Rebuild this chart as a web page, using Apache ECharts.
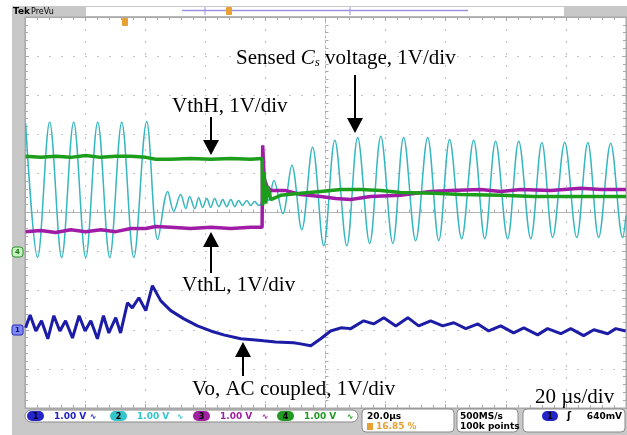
<!DOCTYPE html>
<html><head><meta charset="utf-8">
<script src="https://cdn.jsdelivr.net/npm/echarts@6/dist/echarts.min.js"></script>
<style>html,body{margin:0;padding:0;background:#fff}#c{width:627px;height:435px}</style>
</head><body><div id="c"></div>
<script>
// time in µs (20 µs/div), amplitude in V (1 V/div, measured from screen centre)
const cyanT = [-99.8,-95.8,-91.8,-87.8,-83.8,-79.8,-75.8,-71.8,-67.8,-63.8,-59.5,-55.8,-52.5,-50.5,-48.2,-46.5,-45.2,-43.5,-42.2,-40.9,-39.5,-38.2,-36.9,-35.5,-34.2,-32.9,-31.5,-30.2,-28.9,-27.6,-26.2,-24.9,-23.6,-22.2,-21.2,-20.6,-18.9,-17.2,-14.2,-11.2,-7.9,-4.3,-0.6,3.1,7.1,10.7,14.7,18.4,22.4,26.0,30.0,34.0,37.7,41.3,45.3,49.3,53.0,56.6,60.6,64.3,68.3,72.0,75.6,79.6,83.6,87.3,90.9,94.9,98.9,100];
const cyanV = [2.28,-1.15,2.31,-1.15,2.31,-1.15,2.31,-1.15,2.31,-1.15,2.33,-0.69,0.54,0.03,0.46,0.10,0.41,0.10,0.38,0.13,0.36,0.13,0.36,0.15,0.33,0.15,0.33,0.15,0.31,0.18,0.31,0.18,0.28,0.18,0.28,0.69,0.31,0.82,-0.03,1.21,-0.44,1.67,-0.85,1.85,-0.85,1.92,-0.79,1.95,-0.79,1.92,-0.72,1.92,-0.72,1.87,-0.67,1.85,-0.67,1.82,-0.67,1.82,-0.67,1.79,-0.64,1.79,-0.64,1.79,-0.64,1.77,-0.64,-0.08];

const vthHT = [-99.8,-94.8,-89.8,-84.8,-79.8,-74.8,-69.8,-64.8,-59.8,-56.5,-51.5,-44.9,-38.2,-31.5,-24.9,-21.1,-20.9,-20.4,-19.9,-19.2,-18.2,-14.9,-8.3,-1.6,5.1,11.7,18.4,25.0,36.0,45.0,58.3,69.3,81.6,91.6,100];
const vthHV = [1.44,1.41,1.44,1.41,1.46,1.41,1.44,1.44,1.41,1.36,1.36,1.38,1.36,1.38,1.36,1.38,0.18,1.03,0.23,0.67,0.33,0.44,0.49,0.54,0.59,0.59,0.56,0.51,0.49,0.46,0.44,0.41,0.41,0.41,0.41];

const vthLT = [-99.8,-94.8,-89.8,-84.8,-79.8,-74.8,-69.8,-64.8,-59.8,-56.5,-51.5,-44.9,-38.2,-31.5,-24.9,-21.1,-20.9,-20.4,-19.5,-18.2,-13.2,-8.3,-1.6,3.4,8.4,15.0,25.0,35.0,41.7,51.7,58.3,65.0,74.9,84.9,91.6,100];
const vthLV = [-0.49,-0.46,-0.51,-0.44,-0.49,-0.44,-0.49,-0.41,-0.41,-0.36,-0.38,-0.41,-0.38,-0.41,-0.38,-0.38,1.72,0.87,0.67,0.56,0.56,0.46,0.41,0.36,0.33,0.41,0.44,0.54,0.56,0.59,0.54,0.59,0.56,0.62,0.59,0.59];

const voT = [-99.8,-98.3,-96.4,-94.5,-92.4,-90.4,-88.4,-86.5,-84.2,-82.0,-80.0,-78.1,-75.9,-73.9,-72.1,-69.8,-68.2,-65.9,-64.3,-62.1,-59.8,-57.6,-54.8,-51.5,-47.1,-42.6,-38.2,-33.9,-28.2,-23.2,-20.6,-16.6,-10.6,-8.3,-4.9,-1.6,1.7,5.1,8.4,12.7,16.0,19.4,23.4,27.4,31.0,35.0,39.0,42.7,46.7,50.7,54.3,58.3,62.6,66.0,70.6,73.9,78.3,81.6,85.9,89.3,93.9,96.6,99.9];
const voV = [-2.95,-2.62,-3.03,-2.77,-3.23,-2.64,-3.03,-2.77,-3.21,-2.64,-3.03,-2.77,-3.23,-2.64,-3.08,-2.69,-3.08,-2.31,-2.44,-2.18,-2.51,-1.87,-2.26,-2.51,-2.72,-2.90,-3.03,-3.13,-3.23,-3.26,-3.28,-3.31,-3.33,-3.36,-3.41,-3.23,-3.03,-2.95,-2.97,-2.77,-2.85,-2.69,-2.90,-2.69,-2.90,-2.77,-2.90,-2.82,-2.97,-2.85,-3.03,-2.90,-3.08,-2.95,-3.13,-2.97,-3.10,-2.97,-3.15,-3.00,-3.10,-2.97,-3.03];

const chanLabels = ['1','2','3','4'];
const chanScales = ['1.00 V','1.00 V','1.00 V','1.00 V'];
const chanColors = ['#2424c8','#33c4cc','#a020a0','#229922'];

const pairs = (t, v) => t.map((x, i) => [x, v[i]]);

const GRAY = '#c8c8c8';
const SERIF = '"Liberation Serif", "Times New Roman", serif';
const SANS = '"DejaVu Sans", sans-serif';

function arrow(x, yTail, yTip, head) {
  const dir = yTip > yTail ? 1 : -1;
  const base = yTip - dir * head;
  return [
    {type:'line', shape:{x1:x, y1:yTail, x2:x, y2:base}, style:{stroke:'#000', lineWidth:2}, z:100},
    {type:'polygon', shape:{points:[[x-8, base],[x+8, base],[x, yTip]]}, style:{fill:'#000'}, z:100}
  ];
}
function txt(x, y, text, font, fill, align) {
  return {type:'text', z:100, style:{x, y, text, font, fill: fill || '#000', textAlign: align || 'left', textVerticalAlign:'middle'}};
}

const graphics = [];
// frame
graphics.push({type:'rect', shape:{x:12, y:6, width:615, height:11}, style:{fill:GRAY}, z:-10});
graphics.push({type:'rect', shape:{x:12, y:6, width:13, height:429}, style:{fill:GRAY}, z:-10});
graphics.push({type:'rect', shape:{x:12, y:408, width:615, height:27}, style:{fill:GRAY}, z:-10});
graphics.push({type:'rect', shape:{x:86, y:7, width:478, height:9}, style:{fill:'#fff'}, z:-9});
graphics.push(txt(13, 11.5, 'Tek', 'bold 9px ' + SANS, '#000'));
graphics.push(txt(31, 11.5, 'PreVu', '8px ' + SANS, '#000'));
graphics.push({type:'line', shape:{x1:182, y1:10.5, x2:468, y2:10.5}, style:{stroke:'#9a92e0', lineWidth:1.5}, z:5});
graphics.push({type:'line', shape:{x1:205, y1:7, x2:205, y2:15}, style:{stroke:'#9a92e0', lineWidth:1}, z:5});
graphics.push({type:'line', shape:{x1:350, y1:7, x2:350, y2:15}, style:{stroke:'#9a92e0', lineWidth:1}, z:5});
graphics.push({type:'rect', shape:{x:226, y:7, width:6, height:8, r:1}, style:{fill:'#e8a030'}, z:6});
graphics.push({type:'rect', shape:{x:122, y:18, width:6, height:8, r:1}, style:{fill:'#e8a030'}, z:6});
// ground markers
graphics.push({type:'rect', shape:{x:12, y:247, width:11, height:10, r:3}, style:{fill:'#c8f0c0', stroke:'#2a9a2a', lineWidth:1}, z:6});
graphics.push(txt(17.5, 252.5, '4', 'bold 7px ' + SANS, '#1a7a1a', 'center'));
graphics.push({type:'rect', shape:{x:12, y:325, width:11, height:10, r:2}, style:{fill:'#7e8cf0', stroke:'#2424c8', lineWidth:1}, z:6});
graphics.push(txt(17.5, 330.5, '1', 'bold 7px ' + SANS, '#101080', 'center'));
// status boxes
graphics.push({type:'rect', shape:{x:25, y:410, width:333, height:12, r:6}, style:{fill:'#fff', stroke:'#8a8a8a', lineWidth:1}, z:6});
graphics.push({type:'rect', shape:{x:362, y:409, width:92, height:23, r:4}, style:{fill:'#fff', stroke:'#8a8a8a', lineWidth:1}, z:6});
graphics.push({type:'rect', shape:{x:457, y:409, width:61, height:23, r:4}, style:{fill:'#fff', stroke:'#8a8a8a', lineWidth:1}, z:6});
graphics.push({type:'rect', shape:{x:523, y:409, width:102, height:23, r:4}, style:{fill:'#fff', stroke:'#8a8a8a', lineWidth:1}, z:6});
const chX = [27, 110, 193, 277];
const symX = [93, 180, 265, 350];
for (let i = 0; i < 4; i++) {
  graphics.push({type:'rect', shape:{x:chX[i], y:411, width:17, height:10, r:5}, style:{fill:chanColors[i]}, z:7});
  graphics.push(txt(chX[i] + 8.5, 416.5, chanLabels[i], 'bold 8px ' + SANS, '#000', 'center'));
  graphics.push(txt(chX[i] + 27, 416.5, chanScales[i], 'bold 9px ' + SANS, chanColors[i]));
  graphics.push(txt(symX[i], 416.5, '∿', 'bold 8px ' + SANS, chanColors[i], 'center'));
}
graphics.push(txt(367, 416.5, '20.0µs', 'bold 9px ' + SANS, '#000'));
graphics.push({type:'rect', shape:{x:367, y:423, width:6, height:7}, style:{fill:'#e8a030'}, z:7});
graphics.push(txt(376, 427, '16.85 %', 'bold 9px ' + SANS, '#e8a030'));
graphics.push(txt(460, 416.5, '500MS/s', 'bold 9px ' + SANS, '#000'));
graphics.push(txt(460, 427, '100k points', 'bold 9px ' + SANS, '#000'));
graphics.push({type:'rect', shape:{x:542, y:411, width:16, height:10, r:5}, style:{fill:'#2424c8'}, z:7});
graphics.push(txt(550, 416.5, '1', 'bold 8px ' + SANS, '#000', 'center'));
graphics.push(txt(569, 416.5, 'ʃ', 'bold 10px ' + SANS, '#000', 'center'));
graphics.push(txt(622, 416.5, '640mV', 'bold 9px ' + SANS, '#000', 'right'));
// annotations
graphics.push({type:'text', z:100, style:{x:236, y:58, textVerticalAlign:'middle',
  text:'{n|Sensed }{i|C}{s|s}{n| voltage, 1V/div}',
  rich:{n:{font:'21px ' + SERIF, fill:'#000'}, i:{font:'italic 21px ' + SERIF, fill:'#000'}, s:{font:'italic 13px ' + SERIF, fill:'#000', padding:[9,0,0,0]}}}});
graphics.push(...arrow(355, 75, 133, 15));
graphics.push(txt(172, 106, 'VthH, 1V/div', '21px ' + SERIF));
graphics.push(...arrow(211, 117, 155, 15));
graphics.push(txt(182, 285, 'VthL, 1V/div', '21px ' + SERIF));
graphics.push(...arrow(211, 273, 232, 15));
graphics.push(txt(192, 389, 'Vo, AC coupled, 1V/div', '21px ' + SERIF));
graphics.push(...arrow(243, 376, 342, 15));
graphics.push(txt(535, 397, '20 µs/div', '21px ' + SERIF));

const gridRect = {left:25, top:17, width:601, height:391};
const dotted = {show:true, lineStyle:{color:'#c4c4c4', type:[2,10], width:1}};
const xBase = {type:'value', min:-100, max:100, interval:20, axisLabel:{show:false}};
const yBase = {type:'value', min:-5, max:5, interval:1, axisLabel:{show:false}};
const tick = {show:true, inside:true, length:4, lineStyle:{color:'#aaa'}};
const minor = {show:true, splitNumber:5, length:3, lineStyle:{color:'#aaa'}};

const chart = echarts.init(document.getElementById('c'));
chart.setOption({
  animation:false,
  backgroundColor:'#fff',
  grid:[Object.assign({show:true, backgroundColor:'#fff', borderColor:'#a8a8a8', borderWidth:1}, gridRect), Object.assign({}, gridRect)],
  xAxis:[
    Object.assign({}, xBase, {gridIndex:0, position:'bottom', axisLine:{show:true, onZero:false, lineStyle:{color:'#a8a8a8'}}, axisTick:tick, minorTick:minor, splitLine:dotted}),
    Object.assign({}, xBase, {gridIndex:0, position:'top', axisLine:{show:true, onZero:false, lineStyle:{color:'#a8a8a8'}}, axisTick:tick, minorTick:minor, splitLine:{show:false}}),
    Object.assign({}, xBase, {gridIndex:1, axisLine:{show:true, onZero:true, lineStyle:{color:'#b4b4b4'}}, axisTick:{show:true, inside:true, length:3, lineStyle:{color:'#aaa'}}, minorTick:minor, splitLine:{show:false}})
  ],
  yAxis:[
    Object.assign({}, yBase, {gridIndex:0, position:'left', axisLine:{show:true, onZero:false, lineStyle:{color:'#a8a8a8'}}, axisTick:tick, minorTick:minor, splitLine:dotted}),
    Object.assign({}, yBase, {gridIndex:0, position:'right', axisLine:{show:true, onZero:false, lineStyle:{color:'#a8a8a8'}}, axisTick:tick, minorTick:minor, splitLine:{show:false}}),
    Object.assign({}, yBase, {gridIndex:1, axisLine:{show:true, onZero:true, lineStyle:{color:'#b4b4b4', type:[2,3]}}, axisTick:{show:true, inside:true, length:3, lineStyle:{color:'#aaa'}}, minorTick:minor, splitLine:{show:false}})
  ],
  graphic:graphics,
  series:[
    {type:'line', name:'Sensed Cs voltage', xAxisIndex:0, yAxisIndex:0, data:pairs(cyanT, cyanV), smooth:0.35, showSymbol:false, lineStyle:{color:'#36b6be', width:1.5}, z:3},
    {type:'line', name:'Vo', xAxisIndex:0, yAxisIndex:0, data:pairs(voT, voV), showSymbol:false, lineStyle:{color:'#1c1ca6', width:3}, z:4},
    {type:'line', name:'VthL', xAxisIndex:0, yAxisIndex:0, data:pairs(vthLT, vthLV), showSymbol:false, lineStyle:{color:'#a01ca6', width:3.5}, z:5},
    {type:'line', name:'VthH', xAxisIndex:0, yAxisIndex:0, data:pairs(vthHT, vthHV), showSymbol:false, lineStyle:{color:'#1c9e1c', width:3.5}, z:6}
  ]
});
</script></body></html>
